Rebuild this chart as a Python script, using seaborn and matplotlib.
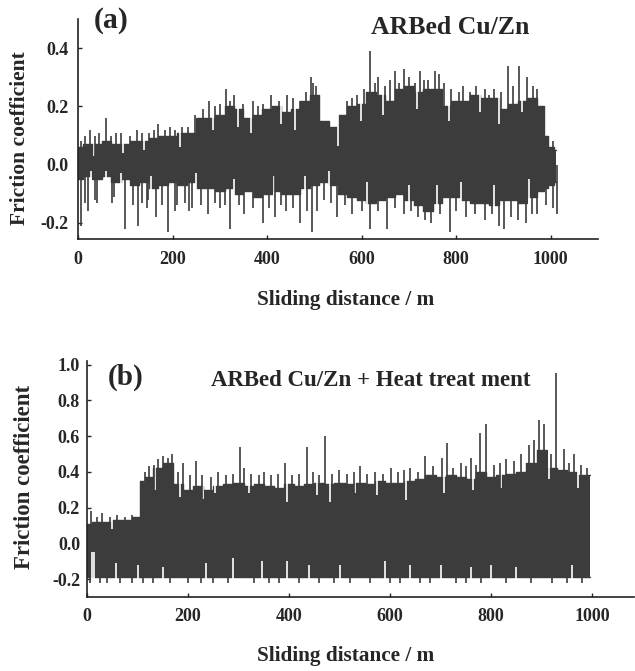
import numpy as np
import matplotlib
matplotlib.use("Agg")
import matplotlib.pyplot as plt
import seaborn as sns

# ---------------- data ----------------
# (a) ARBed Cu/Zn : body of the friction trace (upper / lower envelope)
a_dist = [0, 20, 40, 60, 80, 100, 120, 140, 160, 180, 200, 220, 240, 260, 280,
          300, 320, 340, 360, 380, 400, 420, 440, 460, 480, 500, 520, 540, 560,
          580, 600, 620, 640, 660, 680, 700, 720, 740, 760, 780, 800, 820, 840,
          860, 880, 900, 920, 940, 960, 980, 990, 1000, 1012]
a_upper = [0.06, 0.07, 0.07, 0.08, 0.07, 0.07, 0.08, 0.08, 0.09, 0.10, 0.10,
           0.11, 0.11, 0.16, 0.16, 0.17, 0.20, 0.19, 0.16, 0.17, 0.19, 0.20,
           0.18, 0.19, 0.22, 0.24, 0.15, 0.13, 0.17, 0.20, 0.21, 0.25, 0.24,
           0.22, 0.26, 0.27, 0.25, 0.26, 0.26, 0.20, 0.22, 0.22, 0.24, 0.23,
           0.23, 0.19, 0.21, 0.22, 0.23, 0.20, 0.10, 0.06, 0.05]
a_lower = [-0.05, -0.04, -0.05, -0.04, -0.06, -0.05, -0.07, -0.06, -0.08, -0.07,
           -0.06, -0.07, -0.06, -0.08, -0.08, -0.09, -0.08, -0.10, -0.09, -0.11,
           -0.10, -0.09, -0.10, -0.10, -0.08, -0.07, -0.06, -0.07, -0.10, -0.11,
           -0.12, -0.13, -0.12, -0.11, -0.10, -0.12, -0.14, -0.16, -0.13, -0.11,
           -0.11, -0.12, -0.13, -0.13, -0.14, -0.12, -0.12, -0.13, -0.11, -0.09,
           -0.08, -0.07, -0.06]
# (a) isolated spikes above and below the body
a_up_x = [6, 15, 25, 36, 45, 59, 70, 80, 90, 110, 125, 135, 150, 160, 170, 185,
          195, 205, 220, 232, 248, 265, 278, 290, 300, 313, 322, 330, 350, 370,
          380, 392, 409, 425, 443, 455, 470, 482, 492, 497, 503, 555, 570, 580,
          590, 605, 618, 628, 635, 650, 660, 671, 680, 690, 700, 712, 723, 732,
          740, 755, 763, 775, 790, 805, 815, 830, 841, 860, 870, 880, 895, 910,
          920, 933, 950, 962, 972, 985, 1005]
a_up_y = [0.08, 0.10, 0.12, 0.10, 0.11, 0.16, 0.10, 0.11, 0.11, 0.10, 0.12,
          0.11, 0.11, 0.12, 0.14, 0.12, 0.13, 0.12, 0.13, 0.13, 0.17, 0.19,
          0.22, 0.20, 0.21, 0.26, 0.22, 0.24, 0.21, 0.22, 0.20, 0.21, 0.24,
          0.22, 0.24, 0.23, 0.22, 0.25, 0.30, 0.28, 0.27, 0.17, 0.22, 0.23,
          0.24, 0.26, 0.39, 0.28, 0.30, 0.27, 0.29, 0.32, 0.28, 0.33, 0.30,
          0.28, 0.32, 0.29, 0.29, 0.32, 0.31, 0.28, 0.26, 0.25, 0.27, 0.25,
          0.27, 0.26, 0.24, 0.26, 0.25, 0.34, 0.27, 0.34, 0.30, 0.27, 0.26,
          0.15, 0.08]
a_dn_x = [6, 15, 22, 36, 41, 71, 77, 100, 117, 127, 135, 145, 149, 166, 177,
          190, 205, 210, 227, 235, 241, 260, 276, 290, 300, 310, 322, 340, 352,
          370, 392, 405, 417, 430, 440, 455, 470, 485, 496, 505, 520, 535, 548,
          565, 580, 600, 618, 635, 654, 670, 690, 705, 720, 735, 746, 765, 786,
          800, 820, 840, 860, 875, 891, 902, 915, 930, 948, 960, 970, 990, 1005,
          1014]
a_dn_y = [-0.21, -0.13, -0.16, -0.12, -0.13, -0.13, -0.11, -0.22, -0.14, -0.21,
          -0.13, -0.15, -0.12, -0.18, -0.14, -0.23, -0.16, -0.14, -0.13, -0.16,
          -0.15, -0.14, -0.17, -0.13, -0.15, -0.14, -0.22, -0.14, -0.17, -0.15,
          -0.20, -0.15, -0.18, -0.14, -0.16, -0.15, -0.20, -0.16, -0.23, -0.16,
          -0.12, -0.13, -0.18, -0.14, -0.17, -0.16, -0.22, -0.16, -0.22, -0.15,
          -0.17, -0.16, -0.18, -0.19, -0.20, -0.17, -0.23, -0.16, -0.18, -0.17,
          -0.19, -0.17, -0.21, -0.22, -0.18, -0.19, -0.20, -0.17, -0.17, -0.14,
          -0.15, -0.17]
# (a) narrow gaps cut into the top / bottom of the trace
a_gap_top_x = [33, 95, 140, 215, 285, 338, 365, 430, 460, 551, 598, 645, 718,
               785, 850, 890, 940]
a_gap_top_y = [0.03, 0.04, 0.05, 0.06, 0.12, 0.13, 0.11, 0.14, 0.12, 0.065,
               0.15, 0.17, 0.19, 0.15, 0.18, 0.14, 0.18]
a_gap_bot_x = [28, 60, 90, 155, 250, 330, 415, 480, 530, 612, 700, 760, 810,
               880, 955]
a_gap_bot_y = [-0.02, -0.02, -0.03, -0.04, -0.03, -0.05, -0.04, -0.04, -0.02,
               -0.06, -0.07, -0.07, -0.06, -0.07, -0.05]

# (b) ARBed Cu/Zn + heat treatment
b_dist = [0, 20, 40, 60, 80, 100, 108, 120, 140, 160, 180, 200, 220, 240, 260,
          280, 300, 320, 340, 360, 380, 400, 420, 440, 460, 480, 500, 520, 540,
          560, 580, 600, 620, 640, 660, 680, 700, 720, 740, 760, 780, 800, 820,
          840, 860, 880, 900, 920, 940, 960, 980, 995]
b_upper = [0.11, 0.12, 0.12, 0.13, 0.13, 0.15, 0.35, 0.37, 0.42, 0.45, 0.33,
           0.30, 0.32, 0.30, 0.32, 0.33, 0.34, 0.32, 0.33, 0.32, 0.31, 0.33,
           0.32, 0.33, 0.34, 0.33, 0.34, 0.33, 0.34, 0.33, 0.35, 0.34, 0.34,
           0.35, 0.36, 0.38, 0.37, 0.38, 0.37, 0.36, 0.40, 0.37, 0.38, 0.39,
           0.40, 0.45, 0.52, 0.42, 0.41, 0.40, 0.38, 0.38]
b_lower = [-0.19] * len(b_dist)
b_up_x = [8, 20, 30, 45, 60, 75, 90, 115, 123, 132, 140, 150, 160, 169, 180,
          190, 203, 215, 228, 245, 260, 275, 290, 302, 310, 325, 340, 350, 365,
          378, 392, 405, 420, 435, 448, 460, 472, 485, 499, 515, 528, 540, 555,
          570, 587, 602, 615, 628, 640, 655, 670, 685, 702, 712, 725, 740, 750,
          760, 770, 778, 790, 805, 818, 830, 845, 860, 875, 885, 895, 905, 918,
          929, 945, 955, 965, 978, 990]
b_up_y = [0.18, 0.15, 0.17, 0.15, 0.16, 0.15, 0.16, 0.40, 0.43, 0.44, 0.47,
          0.49, 0.48, 0.50, 0.40, 0.45, 0.38, 0.46, 0.38, 0.37, 0.40, 0.38,
          0.39, 0.54, 0.42, 0.39, 0.38, 0.40, 0.38, 0.39, 0.45, 0.38, 0.39,
          0.54, 0.40, 0.38, 0.60, 0.39, 0.41, 0.39, 0.40, 0.43, 0.39, 0.40,
          0.39, 0.42, 0.40, 0.41, 0.42, 0.40, 0.49, 0.43, 0.48, 0.56, 0.42,
          0.45, 0.43, 0.48, 0.44, 0.62, 0.67, 0.44, 0.45, 0.47, 0.46, 0.50,
          0.55, 0.58, 0.69, 0.67, 0.50, 0.955, 0.53, 0.45, 0.50, 0.44, 0.42]
b_dn_x = [5, 25, 40, 65, 90, 110, 130, 165, 200, 225, 250, 280, 330, 360, 380,
          420, 460, 490, 520, 560, 600, 620, 660, 680, 730, 750, 780, 830, 880,
          920, 950, 980]
b_dn_y = [-0.22] * len(b_dn_x)
# (b) gaps cut into the top / bottom of the trace
b_gap_top_x = [50, 135, 185, 230, 254, 320, 396, 455, 482, 530, 575, 632, 706,
               765, 820, 914, 973]
b_gap_top_y = [0.08, 0.30, 0.26, 0.25, 0.28, 0.28, 0.23, 0.27, 0.23, 0.28,
               0.27, 0.24, 0.28, 0.30, 0.31, 0.36, 0.31]
b_gap_bot_x = [10, 14, 57, 100, 150, 236, 290, 346, 396, 440, 500, 590, 640,
               700, 760, 800, 850, 960]
b_gap_bot_y = [-0.05, -0.05, -0.11, -0.12, -0.13, -0.11, -0.08, -0.10, -0.10,
               -0.12, -0.12, -0.10, -0.12, -0.12, -0.13, -0.12, -0.13, -0.12]

# ---------------- style ----------------
sns.set_style("ticks")
plt.rcParams["font.family"] = ["Liberation Serif", "DejaVu Serif"]
plt.rcParams["font.weight"] = "bold"
band = "#3c3c3c"

W, H = 635, 671
fig = plt.figure(figsize=(W / 100, H / 100), dpi=100)


def px_ax(left, top, right, bottom):
    return fig.add_axes([left / W, 1 - bottom / H, (right - left) / W, (bottom - top) / H])


def draw_trace(ax, dist, upper, lower, gt_x, gt_y, gb_x, gb_y,
               up_x, up_y, dn_x, dn_y, ylo, yhi):
    ax.fill_between(dist, lower, upper, step="mid", color=band, lw=0)
    sns.lineplot(x=dist, y=upper, ax=ax, drawstyle="steps-mid", color=band, lw=1)
    sns.lineplot(x=dist, y=lower, ax=ax, drawstyle="steps-mid", color=band, lw=1)
    # white gaps into the body
    ax.vlines(gt_x, gt_y, yhi, color="white", lw=1.2)
    ax.vlines(gb_x, ylo, gb_y, color="white", lw=1.2)
    # thin spikes (same ink as the body)
    ax.vlines(up_x, 0, up_y, color=band, lw=1.2)
    ax.vlines(dn_x, 0, dn_y, color=band, lw=1.2)


def style_axis(ax):
    sns.despine(ax=ax)
    ax.tick_params(direction="in", length=3, width=1, labelsize=13)
    for s in ("left", "bottom"):
        ax.spines[s].set_linewidth(1.2)
        ax.spines[s].set_color("#222222")
    for lab in ax.get_xticklabels() + ax.get_yticklabels():
        lab.set_fontweight("bold")


# ---- panel (a)
ax1 = px_ax(78, 19, 598, 239)
draw_trace(ax1, a_dist, a_upper, a_lower, a_gap_top_x, a_gap_top_y,
           a_gap_bot_x, a_gap_bot_y, a_up_x, a_up_y, a_dn_x, a_dn_y, -0.25, 0.45)
ax1.set_xlim(0, 1100)
ax1.set_ylim(-0.255, 0.50)
ax1.set_xticks([0, 200, 400, 600, 800, 1000])
ax1.set_yticks([-0.2, 0.0, 0.2, 0.4])
ax1.set_yticklabels(["-0.2", "0.0", "0.2", "0.4"])
ax1.tick_params(axis="x", pad=9)
ax1.tick_params(axis="y", pad=7)
ax1.set_xlabel("")
ax1.set_ylabel("")
style_axis(ax1)

# ---- panel (b)
ax2 = px_ax(87, 361, 634, 597)
draw_trace(ax2, b_dist, b_upper, b_lower, b_gap_top_x, b_gap_top_y,
           b_gap_bot_x, b_gap_bot_y, b_up_x, b_up_y, b_dn_x, b_dn_y, -0.25, 0.94)
ax2.set_xlim(0, 1083)
ax2.set_ylim(-0.30, 1.02)
ax2.set_xticks([0, 200, 400, 600, 800, 1000])
ax2.set_yticks([-0.2, 0.0, 0.2, 0.4, 0.6, 0.8, 1.0])
ax2.set_yticklabels(["-0.2", "0.0", "0.2", "0.4", "0.6", "0.8", "1.0"])
ax2.tick_params(axis="x", pad=8)
ax2.tick_params(axis="y", pad=5)
ax2.set_xlabel("")
ax2.set_ylabel("")
style_axis(ax2)


def ftext(x, y, s, size, **kw):
    fig.text(x / W, 1 - y / H, s, fontsize=size, fontweight="bold",
             ha="center", va="center", **kw)


ftext(111, 21, "(a)", 21.5)
ftext(450, 28, "ARBed Cu/Zn", 18.5)
ftext(20, 138, "Friction coefficient", 15.5, rotation=90)
ftext(346, 300, "Sliding distance / m", 15.3)

ftext(126, 377, "(b)", 21)
ftext(371, 381, "ARBed Cu/Zn + Heat treat ment", 16.5)
ftext(25, 477, "Friction coefficient", 16.5, rotation=90)
ftext(346, 656, "Sliding distance / m", 15.3)

fig.savefig("out.png", dpi=100)
